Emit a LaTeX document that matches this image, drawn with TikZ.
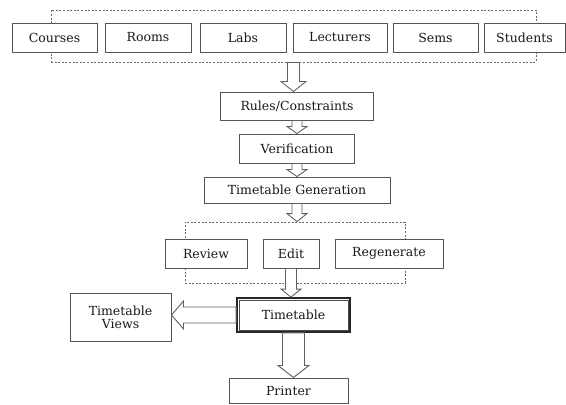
\documentclass[tikz,border=0pt]{standalone}
\usepackage{fontspec}
\setmainfont{DejaVu Serif}
\usepackage{tikz}
\usetikzlibrary{positioning, calc}
\definecolor{cLine} {HTML}{555555}
\definecolor{cDash} {HTML}{6A6A6A}
\definecolor{cArrow}{HTML}{606060}
\newcommand{\boxfont}{\fontsize{12.5}{14}\selectfont}
\tikzset{
  box/.style={draw=cLine, line width=1pt, fill=white, inner sep=2pt,
              minimum height=29pt, font=\boxfont, text=black!90},
  group/.style={draw=cDash, line width=0.9pt, dash pattern=on 2pt off 1.6pt},
  flow/.style={draw=cArrow, line width=0.9pt, fill=white, line join=miter},
  hollow/.style n args={3}{to path={
    let \p1=(\tikztostart), \p2=(\tikztotarget),
        \n1={atan2(\y2-\y1,\x2-\x1)}, \n2={veclen(\x2-\x1,\y2-\y1)} in
    ({\x1-#1*sin(\n1)},{\y1+#1*cos(\n1)})
    -- ({\x1+(\n2-#3)*cos(\n1)-#1*sin(\n1)},{\y1+(\n2-#3)*sin(\n1)+#1*cos(\n1)})
    -- ({\x1+(\n2-#3)*cos(\n1)-#2*sin(\n1)},{\y1+(\n2-#3)*sin(\n1)+#2*cos(\n1)})
    -- (\p2)
    -- ({\x1+(\n2-#3)*cos(\n1)+#2*sin(\n1)},{\y1+(\n2-#3)*sin(\n1)-#2*cos(\n1)})
    -- ({\x1+(\n2-#3)*cos(\n1)+#1*sin(\n1)},{\y1+(\n2-#3)*sin(\n1)-#1*cos(\n1)})
    -- ({\x1+#1*sin(\n1)},{\y1-#1*cos(\n1)})
    -- cycle}},
}

\begin{document}
\begin{tikzpicture}[x=1pt, y=1pt]
  \useasboundingbox[fill=white] (0,0) rectangle (566,-405);
  % input row
  \node[group, minimum width=485pt, minimum height=52pt] (inputs) at (293.5,-36) {};
  \foreach \name/\txt/\xc/\w in {courses/Courses/54.5/85, rooms/Rooms/148/86,
      labs/Labs/243/86, lecturers/Lecturers/340/94, sems/Sems/435.5/85,
      students/Students/524.5/81}{
    \node[box, minimum width=\w pt] (\name) at (\xc,-37.5) {\txt};
  }
  % main column
  \node[box, minimum width=153pt, minimum height=28pt] (rules) at (297,-106) {Rules/Constraints};
  \node[box, minimum width=115pt] (verif) at (297,-148.5) {Verification};
  \node[box, minimum width=186pt, minimum height=26pt] (gen) at (297,-190) {Timetable Generation};
  % review / edit / regenerate
  \node[group, minimum width=220pt, minimum height=61pt] (actions) at (295,-252.5) {};
  \node[box, minimum width=82pt] (review) at (206,-253.5) {Review};
  \node[box, minimum width=56pt] (edit) at (291,-253.5) {Edit};
  \node[box, minimum width=108pt] (regen) at (389,-253.5) {Regenerate};
  % output
  \node[box, minimum width=113pt, minimum height=34pt, draw=black!85,
        line width=1.8pt] (timetable) at (293.5,-315) {Timetable};
  \draw[black!70, line width=0.6pt] ([shift={(3pt,-3pt)}]timetable.north west)
        rectangle ([shift={(-3pt,3pt)}]timetable.south east);
  \node[box, minimum width=101pt, minimum height=48pt, align=center] (views) at (120.5,-317) {Timetable\\[-1pt]Views};
  \node[box, minimum width=119pt, minimum height=25pt] (printer) at (288.5,-390.5) {Printer};
  % hollow arrows
  \draw[flow] (inputs.south) to[hollow={6}{12.5}{10}] (inputs.south |- rules.north);
  \draw[flow] (rules.south) to[hollow={5}{10}{7}] (verif.north);
  \draw[flow] (verif.south) to[hollow={5}{10}{7}] (gen.north);
  \draw[flow] (gen.south) to[hollow={5}{10}{8}] (gen.south |- actions.north);
  \draw[flow] (edit.south) to[hollow={5.5}{10}{8}] (edit.south |- timetable.north);
  \draw[flow] (timetable.south) to[hollow={11}{15.5}{12}] (timetable.south |- printer.north);
  \draw[flow] (timetable.west) to[hollow={8}{14}{12}] (views.east |- timetable.west);
\end{tikzpicture}
\end{document}
